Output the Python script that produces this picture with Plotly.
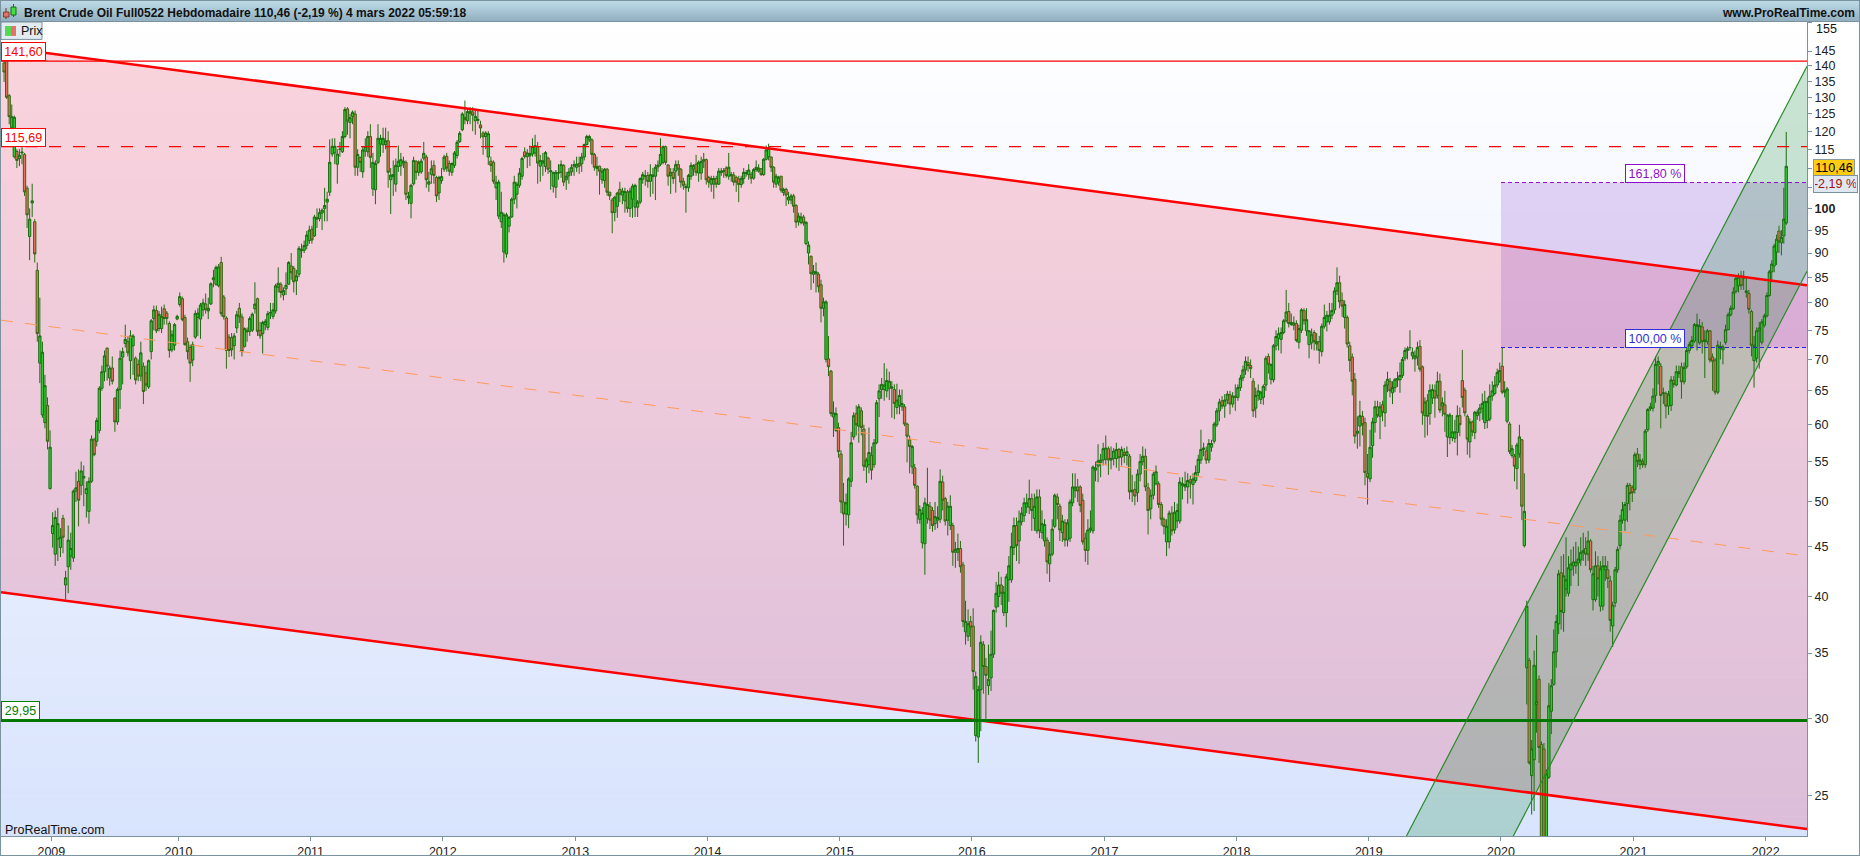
import math
import pandas as pd
import plotly.graph_objects as go

# ---------- weekly candles, one group per calendar span ----------
open_2008 = [141,142,130.5,121,113,114.4,112.5,114,113.6,104.9,93.6,101.3,96.9,86.4,69.4,61.4,60.3,62.8,51.6]
high_2008 = [146,143,131,127.8,124.5,115,115,116,114,105.5,100,106,97.5,88,81,73,67.5,64,59.2]
low_2008 = [134.8,129.5,122,120.5,112.5,110,110.5,111,103,95.5,88.5,98,88,73,66.2,61,59.5,56.6,51.5]
close_2008 = [138,130,124.2,124.2,124,112,113.4,114.2,104,98.5,97.5,101.8,89.8,74.4,74,71.2,65.8,57.7,56.9]

open_2009 = [46.4,44.2,45.8,44.9,48.1,41.1,42.9,44,43.8,51.3,52.5,52,52.9,51,48.9,52.5,57.9,57.7,59.2,65.4,68,71.9,67,68.6,63.9,60.4,65.2,70.4,72.7,73,69.8,72.3,70.2,69.2,67.3,68.9,67.8,65.6,71.3,77.1,78.6,75.3,75.3,78.9,78.1,76.2,71.6,72.4,77]
high_2009 = [48.8,49,49.3,47,48.5,42.5,47.3,46.5,51.5,53.7,54,55,54.5,52.5,53,58.5,58.2,61,65.7,69,71.5,72,69,70.5,64,65.5,71.5,72,76,74,75,74.3,70.5,70,73,69.5,69,70,77,79.5,79.5,78.5,79.3,79.7,78.5,76.6,75,76.3,77.8]
low_2009 = [44.9,43,43.5,43.9,44.3,39.7,40.3,42.6,43.4,50,47.2,50.8,49.5,48.2,47.5,52.3,55.7,57,58.8,65,66.5,66.6,65.8,66,59,60,62.3,66,72,70.5,66.8,67.5,66,66.5,66.5,63,65,65.3,70,75,74.5,74.8,74.5,76,76,70.3,71.2,71.5,76.8]
close_2009 = [47.3,48.2,47.5,46,46,41.8,45.7,44.8,51.3,51.7,50.2,53.8,53.1,51.6,52.5,58,55.9,60.6,65.4,68,70.6,68.9,68.6,66.5,60.4,65.2,70.2,71.3,73.4,71.1,74,74,66.7,67.3,71.1,64.9,65.9,69.8,76.7,78.7,74.9,77.9,77.5,77.1,77.1,71.5,74.2,76,77.5]

open_2010 = [79.7,80.8,77.3,73,72,69.9,73.8,77.3,77,78.7,79.8,78.5,79.8,84.5,83.6,83.3,88,81.1,77.2,73.8,73.7,72.3,75.4,79,77.4,72.2,75,74.8,75,78.9,80.8,75,74.4,76,75.5,78.1,77.5,78.5,83,83.6,81.5,82.7,83.6,87.3,86.8,84.3,85.6,90.5,90.6,91.6,92.7]
high_2010 = [82,81.2,77.8,73.7,72.5,73,78.6,79,80,80.8,81.8,81,84,86.5,87.4,87.7,89.2,81.5,77.5,74.3,74.5,74.5,78.5,80,78,75.5,75.5,77.5,78.2,84,81,76.5,76.7,77,78.5,80,80,83.7,87,84,83,86,88.3,90,87.3,86.5,91.5,92,92.7,94.8,96]
low_2010 = [79.3,76.6,72.3,70,66.4,68.9,73.5,74,73.5,77.5,78,77,79.6,83,83.3,83,77.5,76.9,68.5,70.4,70.5,70,74.5,76.3,70.5,72,73,74,74.7,78,74,73.5,71,75,75,77,77,78,82,81,80.5,81.5,83.5,84.5,82,81.5,85,89,90,90.8,92]
close_2010 = [81.2,76.9,72.5,71.3,69.4,72.5,78,78.1,79.6,80,78.7,79,83.7,84.9,87,87.1,78,77.4,71.5,71.5,71.6,74,77.8,77.4,71.3,75.3,74.7,77.1,77.9,79.8,74.8,74,76.4,76.6,78,78.2,78.7,83.3,83.8,82,82.4,83.4,88,85.9,84.1,85.3,91,90.7,91.6,93.9,95]

open_2011 = [95.2,93.7,97.5,97.6,98.9,100,101.5,103.9,113.7,114,111,115,114.3,118.5,126.5,122.5,124.2,125,110.2,112.8,109,114.5,114.3,118.5,104.7,104.5,111.5,116.4,116.2,116.3,117.3,107,107.8,105.9,110.4,110.6,111.3,111.5,102.5,101.2,106,111.8,108.9,109,112.6,112.9,105.9,108.4,110.7,107.6,103.7,106.8]
high_2011 = [96,98.5,100,100,100,105,104,117.7,118,118,115,117,120,127,127,125,126,126,115,113,115.6,118,120,122,114,112,122,119,121,121,120,110,112,112.5,116,114,113,112,104,106,113,112,112,112.5,117,113.5,109,112,112,108,108,110]
low_2011 = [92,93.5,95.5,97,95,97,97,103,113,111,106,113,114,118,119,118,122,108,108,109,107.5,113,113,110,103,101,111,113,114,115,105,98.7,103,104,109,108,110,102,101,97.7,105.6,107,108,108.5,112,105,104,106,106,101.5,102,106]
close_2011 = [92.8,98,97.8,99,99.6,100.7,102.2,111.5,115.8,115.8,113.7,115,118.5,126.3,122.9,123.9,125.5,110.2,113.6,111.5,114.8,115.7,118.5,112.8,111.5,111.2,118,118,118,117.3,108.9,108.2,108.3,110.7,111.8,112.2,111.8,103.4,103,105.6,112,108.9,111.5,111.8,113.9,107,106.5,109.8,108.1,103,107.6,107.8]

open_2012 = [109.7,113.1,111.2,108.9,110.7,113.3,117.1,120.4,124,123,125.2,125.6,123,123.1,121.8,119.5,118.5,112.9,111.8,111.5,105,98.2,96.9,90.2,89.8,95.9,98,102.2,103.4,105.6,107.9,114.3,113,113.2,113.7,114,115.7,110.5,111.3,110.4,112.6,109,105.4,105.1,108.7,108.9,110.7,107,108,109,110.5]
high_2012 = [113.5,114,112,111.5,114.5,117.5,120,125.5,129,126.5,127,127,126,126,123,120,120,120,113,112,108,107,104,99,99,98.2,102.6,108,106.5,110,113,115.5,115,116,118,119,117,113.5,114,114.5,113,112,109,109.5,111,112,111,109,110,111,112]
low_2012 = [109,109,108,108,110,112.5,116.7,120,122,122,122,120,119,122,118,113.5,115,110.8,109,106,102,97.5,95.5,88,89,94.5,97.8,101,100,105,107,112.5,110,110.5,113,113,106,106.5,108,109,108.5,104.5,103.8,102.5,107,107.5,105.4,104.5,106,108,108]
close_2012 = [112.9,110,109.2,111.2,114,116.9,119.4,125,123.3,125.7,125.8,124.6,124.3,123.4,120.9,118.4,119.5,119.3,110.7,106.6,106.4,106.4,99.1,98.5,98.5,97.9,102.2,106.4,105.9,108.7,112.5,113,114,113.8,115.7,116,111.3,112,111.9,114.1,109.7,109.3,108.9,108.9,108.8,110.9,106.4,107.9,109,110.2,110.9]

open_2013 = [110.2,111.2,111.1,112.9,116.3,117.6,117.6,113.6,109.9,110.5,107,106.8,109.7,103.9,102,99.1,100.5,104.6,103.2,101.8,103.9,100,102.2,100.3,100.3,101.5,107.1,107.9,108.1,106.6,107.8,107.9,110.3,111,111.5,115.7,110.8,108.1,108.9,109.2,110.9,109.7,106.6,105,105,107.9,109.7,111,108.7,108.7,111.8,112.2]
high_2013 = [113,113,114,116.5,119,119,118,114,113,110.6,110,110,110,104,102.5,103,104,106.5,105,105,104.5,105,106,106,102,107.6,109,109.5,109,111,110,111,112,118,116,116,111,110,110,112,112,110,107.5,106,108.5,111.5,111,113.5,112,113,114,112.5]
low_2013 = [109,108.5,109,112,116,117,111,109.3,108,103.3,106,105,103,102,94.3,97,97.8,101.5,101,99,99,98,97.8,98,98,101,106,105.5,105,102.8,103.5,102,109,110.5,111,110.8,105.5,103.5,106,103.8,108,105,104.5,99,104,107,108,108,106.5,107,110,105.8]
close_2013 = [111,110.5,112.9,116.3,118.5,118.5,113.6,110.2,110.4,109.2,109.2,109.7,103.9,103,99,102.7,103.7,103.4,104.2,104.1,100,104.2,105.4,105.6,101.5,107.3,108.3,108,106.6,108.3,108.2,110.2,110.8,113.6,115.7,111.5,107.9,108.9,107.3,110.9,109.7,106.4,105.6,105.3,108.1,110.7,110.7,108.9,111.5,111.7,112.2,107]

open_2014 = [107.6,105.9,105.9,107.3,105.9,108.8,109.1,110,107.9,108,108.2,107.6,107.2,105.8,107.3,108.6,108.3,108.3,107.4,109.6,109.2,109.8,108.3,112.3,113,112.9,110.2,105.9,106.4,107.9,103.8,104.6,102,102,103,100.7,97,96.7,98,92,90,89.3,85.6,85.7,85.6,83.5,79,70,70.1,68.1,61.1,59.2,59.6]
high_2014 = [108,108,108,108,110,110,110,110.5,114,109,109,108,108,108,110,109.5,111,109,110,112,111,110,112.6,116,116.5,113,110.5,108.5,108,108,105,105,104,103.5,103.5,101,99,99,98.5,97,92.5,89.5,87.5,88,86,84.5,81,80.5,74,68.3,63.4,62.5,60.3]
low_2014 = [105,104,102.3,105,105.7,108,107.5,107.5,107,106.5,105.5,104,101.5,105,106,107.8,107,106,107,109,108.8,108,108,112,112,109,105,105,105.5,103.8,103,100.6,101,101,99,95.5,96,96.3,96,91.7,87.6,82.5,83.8,82,82,76.4,77.5,69.5,67.3,61.2,58.3,59,55.5]
close_2014 = [106.4,107.3,107.3,105.9,109.2,109.2,109.3,108.1,110.2,108.3,106.4,106.4,105.8,107.3,108.9,108.8,109.5,107.4,109.6,110.2,110,108.3,112.3,114.8,115.3,110.2,106.4,107.9,107.6,104.4,104.6,103.2,102.7,103,100.5,96.8,98.2,98,96.6,96.8,91.7,85.7,86.2,86.1,83.1,79,80.2,80.2,68.8,61.6,61.7,61.6,56.3]

open_2015 = [56,50,48.6,48.5,52.5,58.3,61.6,59.8,62,59.4,54.3,54.6,55.8,54.6,57.5,63.8,65.2,65.2,65,65.4,65.4,65.2,62.5,62.8,62.6,62.6,60.1,57.9,54.3,54.2,51.9,48,45.4,45.3,48.1,49.5,49,47.5,47.9,48,52.4,50.4,47.9,47.3,47.3,44.4,44.4,44.8,43.1,36.8,36.4,37.7]
high_2015 = [56.5,52.3,51,53,59,61.8,62.8,63,62.5,60,55.5,59.6,57,58,63.6,66,67,69.4,68.5,68,66.5,66,66.1,65.2,65.2,63,60.3,58.5,57.2,54.7,52,49.6,49.4,50.5,54.2,50,49.4,50,49.5,54,53.2,50.6,50,50.8,47.6,45.5,46.4,45.6,43.4,39.6,38.8,38.2]
low_2015 = [48.7,45.1,47.3,47,51.8,57.9,58.5,57.5,58.5,53.8,52.3,53.5,52.7,54.2,57.3,61.1,63.8,63.5,64,63.6,61,60.8,61.5,61.5,62,59.8,54.9,53.5,53.4,51.6,47.5,47.5,44.8,42.1,47.5,46.9,46.6,46.8,47,47.6,49,47.3,46.2,46.8,43,42.8,43.5,42.3,37.2,35.7,36,35.5]
close_2015 = [50,48.6,49.9,52.8,57.5,61.3,60,62.6,59.6,54.4,55.2,56.2,53.9,57.5,63.2,65,66,65.9,66.6,66.5,65.6,63.1,63.6,64.3,63.1,60.1,58.4,57,57,52,48.5,49.1,48.7,49.9,49.7,47.9,47.3,48.3,48.2,52.5,50.2,47.8,49.5,49.5,44.4,44.7,44.8,42.9,37.7,37.7,37.5,37.2]

open_2016 = [37.3,28.8,28.7,32.1,35.7,33.9,32.4,33,34.9,39,40,41.1,38.5,38.5,41.6,41.6,44.9,47.3,45.6,47.7,48.4,49.4,49.4,50.4,48.1,46.7,50.6,46.5,45.6,45.7,43.2,44.2,47.2,50.6,49.5,46.5,47.6,45.7,45.9,49.9,51.4,51.8,51.8,50.2,45.9,44.6,46.8,46.7,53.9,54.4,54.9,55.2]
high_2016 = [38.9,33.5,32.4,36.5,36,34.6,35.7,36.9,38.8,41.4,42.4,41.9,41,42.2,44,46.5,48.2,48.2,49,49.4,50.5,51,52.7,51,51,51.5,51.5,49,48,46,45.5,48,51,51,49.8,48.5,48,48,50.3,53.5,53.5,52.8,52,51,46.5,48,49,54.5,55,57.3,56,57.5]
low_2016 = [32.1,28.4,27,29.1,31.8,29.9,31.7,32,34.6,38.5,39,39.2,38.2,37.2,39.5,41.3,44.1,43.5,43.2,47.3,47.7,48.7,48.6,46.7,46.7,46.4,45.9,45.8,45,42.2,41.4,44,47,48,45.6,45.5,45,45,45.5,49.5,50.5,50,48.8,45.2,43.4,43.1,46.5,46.4,52.5,52.4,53,54.5]
close_2016 = [33.5,33.1,32.1,35.9,33.9,33.2,32.9,34.9,38.7,40.3,41.1,40.3,40.4,41.9,43,45,47.3,45.1,47.8,48.7,49.9,49.9,50.4,49,49.5,50.6,46.7,47.5,47.4,43.4,44.2,46.9,50.8,49.7,46.8,47.8,45.7,47.6,50,51.8,51.8,51.3,49.6,45.5,44.6,46.8,47,54.3,54.2,55.1,55.2,56.7]

open_2017 = [55.3,56.7,55.2,55.4,55.4,56.6,55.6,56.2,55.8,55.7,51.2,51.5,51.1,53.4,55,55.7,51.7,49.2,50.8,52.2,52.2,49.7,48,45.5,45.5,48.7,46.8,47.8,47.8,52,51.8,51.8,52.7,52.1,52.6,53.6,55.2,56.6,56.4,55.2,56.9,57.7,60,62,63.5,62.7,63.6,64.4,63,64.2]
high_2017 = [58.5,57,57,56.8,57.5,56.8,57,56.8,57,56,53.3,52.5,54,56,57,56.7,52.3,51.5,53.7,54.5,52.5,50,48.2,48,49,49.5,50,49.8,53,53,53.7,53.5,53.2,53.5,54.5,55.9,59.3,57.5,57,58,57.9,60.4,62.4,63.8,64.2,64.5,65,65,64.8,66]
low_2017 = [54.5,53.3,54,54.5,54.2,53.8,54.5,54.8,54.5,50.3,50,49.6,50,52.5,54.5,51.3,46.3,48,50.3,52,49.3,47.3,46.3,44,44.8,46.2,46.4,47,47.5,50.3,51.3,49.8,50.4,49.7,52.3,53.2,54.7,55.7,54.7,54.8,56.3,57.4,59.7,60.5,62.3,61,63,61.5,62.5,62]
close_2017 = [56.8,55.2,55.4,56.4,56.6,55.5,56.6,55.8,56.3,51.2,51.4,50.7,53.4,55,55.7,51.8,49,50.8,53.4,53.7,49.7,48,47.2,47.2,48.7,46.7,48.8,49,52.4,52.2,52.1,52.6,52.3,52.8,53.6,55.3,56.6,56.8,55.2,57.4,57.4,60.1,62,63.3,62.7,63.6,64.5,63,64.2,64]

open_2018 = [64,65.5,67,68.3,69.5,69,66.5,62.4,64.3,63.7,64,65.9,70.5,66.8,66.7,72.3,73.6,73.4,74.6,76.7,78.4,76,75.9,76.2,72.9,75,78.6,74.9,72.5,72.8,74.6,72.6,73,71.3,75.7,76.5,76.5,77.7,78.7,82.3,83.9,80.5,77.3,77.3,72.3,70.4,66.8,58.8,59.8,61.2,60.3,53.5]
high_2018 = [66,67.5,69,70.5,70.5,70,67,65.5,66,65,66,70.6,71,69.3,72.6,75,75.5,75.5,77,82.5,80,78,77.5,76.8,76,79,79,79,75,75.3,75,74.5,74,76.2,79.7,78.5,80,80,83,87,85.3,82,80.5,77.7,73,71,67.8,61.2,63.5,62,61,56]
low_2018 = [63.5,65,66.5,67.5,68,67,61.1,61,63.5,63,62.9,65,67.7,66,66.3,71.5,71.5,71,74.3,76.4,75.5,75.8,75,72.9,71.8,74.5,76,74,70.2,71.7,71.5,71.5,69.3,70.5,75.3,74.8,76,77,78,81.5,79,77.4,75.3,72,68,64.3,57.4,56.7,57,58.5,52,49.7]
close_2018 = [65.5,67,68.3,69.7,69,68.5,62,64.3,65,64.8,65.7,70.2,69.2,69.2,72.3,73.9,74.4,74.6,76.7,78.3,76.2,76.4,76.3,73.2,75.3,78.7,76.7,76.9,74.9,74.2,73,73,71.5,75.7,77.3,77.7,77.7,78.6,82.3,83.9,80.2,79.4,79.7,72.6,69.8,66.5,58.4,59.1,61.3,60,53.6,53]

open_2019 = [52.8,57.1,60.3,62.6,61.2,62.9,61.7,65.9,66.5,64.7,65.5,66.7,66.7,67.4,70.2,71.5,72,70.6,70.1,70.4,72.2,68.8,61.3,63.5,61.6,63.9,65,64.3,66.5,62.7,62.9,58.3,58.2,58.2,58.1,58.9,61.3,66.6,65.1,61.2,57.6,60.4,58.9,61.3,61.7,62.4,60.3,60.6,60.8,64.2,64.6,65.9,66.5]
high_2019 = [59.3,61,63.5,63.5,63.3,63.5,66.5,68,67,66.5,67,68,69.5,70.4,72,72.2,75,72,71.5,73,73.3,69,64,64.5,66,66,66,68,67.7,64,65,61.5,61.7,61.4,60.7,62.8,62.5,71.6,65.5,61.5,60.9,60.6,62,62.2,63,64.6,65,64,66,66.5,67.3,68.5,69.5]
low_2019 = [52.4,55.5,58.9,61,58,60.5,59.7,64.8,64,63,64.8,65.6,64.7,67,69.8,70,71.5,70,68,69,68,60,58.2,58.5,60,63,61,63.8,61.7,61.2,59,55.6,57.3,57.7,57.5,55.8,58.4,62.5,61.2,55.9,55.5,58.4,58,60.7,60.5,60.7,59.4,59.5,60.5,63.5,64.3,65.5,66.2]
close_2019 = [56.9,60.4,62.6,61.3,62.6,61.8,65.9,66.8,65,65.5,66.8,66.9,67.4,70,71.5,71.8,72,71.2,70.6,72,68.4,61.7,63.3,61.2,65.1,65.2,63.9,66.5,62.1,63.2,61.5,61.4,61.4,59,59,61.3,60,64,61.7,58,60.4,59,61.8,61.8,62.4,63.1,63.4,63.4,64.2,65,65.9,67.9,68.2]

open_2020 = [68.9,64.8,60.5,60.1,55.8,55.7,54.1,56,57.9,45.1,33.8,34.4,26.2,27.2,31,32.9,28.2,27.9,19,26.1,30.5,32.5,35.1,37.5,42.3,38.5,40.7,40.3,42.6,43,43,43.3,43.6,44.4,44.8,44.2,45.6,39.7,39.7,43,39.1,39.1,42.6,42.6,41.5,37.3,39.4,42.6,45.1,47.9,47.9,49.8,52,51.7]
high_2020 = [72,66.5,65.6,60.4,57.2,56,57.5,60,58,53.5,39.6,34.6,28.5,35.2,36.5,33.2,28.4,28.3,26.6,32.6,32.9,37,38.3,42.6,44,44.2,46,44,44.7,45,45.5,45,46,46.5,46,46.7,45.8,43,44.5,44,43.5,44,44,43.5,42,39.5,42.9,45,48.5,50,50,52.3,52.3,52]
low_2020 = [64.5,64,60.2,56,55.5,52.5,51.5,55.5,47.9,44.9,31,26.9,23.9,24.1,29,27,19,19,18.5,26,28.9,32.4,33.8,36.6,37,36.8,40,40,41,42,42.2,41,43,43.5,43,43.5,42.3,38.7,39.5,40,38.6,38.7,41.5,40.8,36.8,35.5,39,42.3,44.7,47.5,46.7,47.7,49,50]
close_2020 = [64.8,65,65.3,56.3,56.7,54.4,57.2,58.3,49.5,48.9,39.1,27,27.9,34,31.2,28,20,20,26.3,30.9,32.4,35.1,37.7,42.2,38.6,42,41.6,42.8,43.2,43.4,43.4,43.7,44.4,44.6,44.2,45.6,42.6,42.2,43,41.7,42.7,43,43,41.7,37.8,39.2,42.6,44.7,47.9,49.1,49.7,52,51,51.1]

open_2021 = [51.5,56,54.6,55,54.6,59.3,62.3,62.4,64.3,69.1,68.9,64.6,64.6,62.7,62.8,66.6,65.9,67.7,68.8,66.4,68.8,71.5,72.3,73.1,75.7,72.8,75.6,73,73,74.9,70.4,69.9,64.8,71.9,71.6,72.9,75.1,77.8,78.9,82.2,83.3,85.3,84.8,82,81.8,78.4,69.8,70.2,74.9,72.9,75.9]
high_2021 = [56.2,56.8,56,55.4,59.4,62.4,63.2,65.4,70.5,70.5,69.4,65.5,64.9,65,67.3,67.3,69,69,69.5,69.5,72,73,74,76.3,78,77,76.5,75,75.2,75,71,70.2,73.2,73,72.5,76,78.2,79.5,83,85.2,85.8,86.3,86.3,85.2,82.5,78.7,74,75.5,76.5,77,78]
low_2021 = [51,54.3,54,54.2,54.2,59,62,61.9,63.2,66,59.5,63,60.9,61.4,62,65.5,65.7,67,63.8,66,68.5,71,71.8,72.8,71.5,72.5,71,67,72.5,69.5,65,64.4,64.5,70,69.2,72.5,75,77.5,78.7,81.8,82,82.5,82.5,81,78,70.5,65.5,69.5,68.5,72.5,75.5]
close_2021 = [55.9,55,55.2,54.6,59.1,62.2,62.6,64.2,69.2,69.7,64.3,64.7,62.7,64.5,66.7,66,68,68,66.4,68.7,71.5,72.5,73.2,76,76,75.8,73,73.3,74.9,69.9,69.7,64.8,72.4,72.2,72.1,75.1,77.8,79,82.1,84.8,85,83.3,85,82.3,78.8,72.4,72.4,74.9,75.4,76.5,77.6]

open_2022 = [77.6,81.4,86.1,87.3,90.2,94.8,92.2,93.7,96.6]
high_2022 = [82,86.5,88.5,92,94,96,95,105,119.8]
low_2022 = [77.3,81.2,84,86,87.5,90,89.5,92,96.2]
close_2022 = [81.4,86.1,87.7,91.5,93,92.4,93.4,97.5,110.46]

# Calendar span of each group (the platform's x axis is per-bar, so the 2009 tick sits a bit late)
year_edges = ["2008-09-03", "2009-01-15", "2010-01-01", "2011-01-01", "2012-01-01", "2013-01-01", "2014-01-01",
              "2015-01-01", "2016-01-01", "2017-01-01", "2018-01-01", "2019-01-01", "2020-01-01", "2021-01-01",
              "2022-01-01", "2022-03-02"]
group_opens = [open_2008, open_2009, open_2010, open_2011, open_2012, open_2013, open_2014, open_2015, open_2016, open_2017, open_2018, open_2019, open_2020, open_2021, open_2022]
group_highs = [high_2008, high_2009, high_2010, high_2011, high_2012, high_2013, high_2014, high_2015, high_2016, high_2017, high_2018, high_2019, high_2020, high_2021, high_2022]
group_lows = [low_2008, low_2009, low_2010, low_2011, low_2012, low_2013, low_2014, low_2015, low_2016, low_2017, low_2018, low_2019, low_2020, low_2021, low_2022]
group_closes = [close_2008, close_2009, close_2010, close_2011, close_2012, close_2013, close_2014, close_2015, close_2016, close_2017, close_2018, close_2019, close_2020, close_2021, close_2022]

# ---------- levels and drawn lines ----------
window_dates = ["2008-08-29", "2022-04-25"]
upper_trend_values = [146.4, 83.4]
lower_trend_values = [40.4, 23.1]
middle_trend_values = [76.8, 44.0]
resistance_top = 141.6
resistance_mid = 115.69
support_level = 29.85
fib_start_date = "2020-01-01"
fib_100 = 72.0
fib_1618 = 106.3
channel_top_dates = ["2019-04-15", "2022-04-25"]
channel_top_values = [22.72, 139.9]
channel_bottom_dates = ["2020-02-04", "2022-04-25"]
channel_bottom_values = [22.72, 86.2]

year_labels = ["2009", "2010", "2011", "2012", "2013", "2014", "2015", "2016", "2017", "2018", "2019", "2020", "2021", "2022"]
price_ticks = [155, 145, 140, 135, 130, 125, 120, 115, 110, 105, 100, 95, 90, 85, 80, 75, 70, 65, 60, 55, 50, 45, 40, 35, 30, 25]

# ---------- assemble candles ----------
xs, o, h, l, c = [], [], [], [], []
for i in range(len(group_opens)):
    n = min(len(group_opens[i]), len(group_highs[i]), len(group_lows[i]), len(group_closes[i]))
    start, end = pd.Timestamp(year_edges[i]), pd.Timestamp(year_edges[i + 1])
    step = (end - start) / n
    for j in range(n):
        xs.append(start + step * (j + 0.5))
        op, cl = group_opens[i][j], group_closes[i][j]
        o.append(op)
        c.append(cl)
        h.append(max(group_highs[i][j], op, cl))
        l.append(min(group_lows[i][j], op, cl))

FONT = "Liberation Sans"
W, H = 1860, 860
L, R, T, B = 1, 1807, 22, 840
PW, PH = R - L, B - T
AXIS = "#7b929f"


def fx(px):
    return (px - L) / PW


def fy(py):
    return (B - py) / PH


def rect(x0, y0, x1, y1, fill, line=None, width=1, layer="above"):
    return dict(type="rect", xref="paper", yref="paper", x0=fx(x0), x1=fx(x1), y0=fy(y0), y1=fy(y1),
                fillcolor=fill, layer=layer, line=dict(color=line or fill, width=width if line else 0))


def poly(xv, yv, fill):
    pts = " L ".join(f"{a},{b}" for a, b in zip(xv, yv))
    return dict(type="path", xref="x", yref="y", path=f"M {pts} Z", fillcolor=fill, layer="below", line=dict(width=0))


shapes = []
# plot background gradient
strips = 82
for s in range(strips):
    t = (s + 0.5) / strips
    col = f"rgb({round(255 - 39 * t)},{round(255 - 28 * t)},{round(255 - 2 * t)})"
    y0 = T + PH * s / strips
    y1 = T + PH * (s + 1) / strips
    shapes.append(rect(L, y0, R, y1 + 0.5, col, layer="below"))

# filled zones
shapes.append(poly([window_dates[0], window_dates[1], window_dates[1], window_dates[0]],
                   [upper_trend_values[0], upper_trend_values[1], lower_trend_values[1], lower_trend_values[0]],
                   "rgba(235,0,40,0.165)"))
shapes.append(poly([fib_start_date, window_dates[1], window_dates[1], fib_start_date],
                   [fib_1618, fib_1618, fib_100, fib_100], "rgba(128,50,195,0.20)"))
shapes.append(poly([channel_top_dates[0], channel_top_dates[1], channel_bottom_dates[1], channel_bottom_dates[0]],
                   [channel_top_values[0], channel_top_values[1], channel_bottom_values[1], channel_bottom_values[0]],
                   "rgba(0,128,30,0.20)"))

# window chrome
for s in range(22):
    t = s / 21
    col = f"rgb({round(190 - 46 * t)},{round(220 - 46 * t)},{round(232 - 42 * t)})"
    shapes.append(rect(0, s, W, s + 1, col))
shapes.append(rect(0, 21, W, 22, AXIS))
shapes.append(rect(0, 0, 1, H, AXIS))
shapes.append(rect(W - 1, 0, W, H, AXIS))
shapes.append(rect(0, 0, W, 1, AXIS))
shapes.append(rect(0, H - 1, W, H, AXIS))
# title icon
shapes.append(rect(5.5, 8, 6.5, 19, "#7a3020"))
shapes.append(rect(3.5, 12, 9, 17, "#e8706a", "#7a4030"))
shapes.append(rect(13, 4, 14, 17, "#1c6b10"))
shapes.append(rect(11, 7, 16, 15, "#44dd44", "#1c6b10"))
# "Prix" tab
shapes.append(rect(1, 22, 42, 39.5, "#e2ebf0", AXIS))
shapes.append(rect(5, 26, 11, 36, "#55d955"))
shapes.append(rect(11, 26, 16, 36, "#e8706a"))

annotations = []


def note(text, x, y, xanchor="left", yanchor="middle", color="#111111", size=12.5, bold=False, **kw):
    annotations.append(dict(text=f"<b>{text}</b>" if bold else text, x=x, y=y, xref="paper", yref="paper",
                            xanchor=xanchor, yanchor=yanchor, showarrow=False,
                            font=dict(family=FONT, size=size, color=color), **kw))


def level_box(text, x_px, w_px, value, color):
    annotations.append(dict(text=text, x=fx(x_px), y=math.log10(value), xref="paper", yref="y",
                            xanchor="left", yanchor="bottom", showarrow=False, width=w_px - 3, height=17, align="center",
                            bgcolor="#ffffff", bordercolor=color, borderwidth=1, borderpad=0,
                            font=dict(family=FONT, size=12.5, color=color)))


note("Brent Crude Oil Full0522 Hebdomadaire 110,46 (-2,19 %) 4 mars 2022 05:59:18", fx(21.5), fy(12.5), bold=True, size=12)
note("www.ProRealTime.com", fx(1857), fy(12.5), xanchor="right", bold=True, size=12)
note("Prix", fx(19), fy(31))
note("ProRealTime.com", fx(2.5), fy(834))
note("155", fx(1814), fy(29.5))
level_box("141,60", 1, 46, resistance_top, "#ff0000")
level_box("115,69", 1, 46, resistance_mid, "#ff0000")
level_box("29,95", 1, 40, support_level, "#008000")
level_box("161,80 %", 1625, 61, fib_1618, "#8a10c8")
level_box("100,00 %", 1625, 61, fib_100, "#3030d8")
note("110,46", fx(1813), fy(168.5), color="#000000", bgcolor="#ffcc11", bordercolor="#8a9aa5", borderwidth=1, borderpad=1,
     width=38, height=14)
note("-2,19 %", fx(1813), fy(185), color="#a01010", bgcolor="#dfe7f1", bordercolor="#7b929f", borderwidth=1, borderpad=1,
     width=41, height=14)

fig = go.Figure()
fig.add_trace(go.Candlestick(
    x=xs, open=o, high=h, low=l, close=c, whiskerwidth=0,
    increasing=dict(fillcolor="#33cc33", line=dict(color="#1c6b10", width=1)),
    decreasing=dict(fillcolor="#e8705f", line=dict(color="#2f6b10", width=1)),
    hoverinfo="skip", showlegend=False))


def line(xv, yv, color, width, dash="solid"):
    fig.add_trace(go.Scatter(x=xv, y=yv, mode="lines", hoverinfo="skip", showlegend=False,
                             line=dict(color=color, width=width, dash=dash)))


line(window_dates, upper_trend_values, "#ff0000", 2.5)
line(window_dates, lower_trend_values, "#ff0000", 2.5)
line(window_dates, middle_trend_values, "#ff9a5c", 1, "12px,12px")
line(window_dates, [resistance_top] * 2, "#ff0000", 1.3)
line(window_dates, [resistance_mid] * 2, "#ff0000", 1.3, "12px,12px")
line(window_dates, [support_level] * 2, "#007700", 3)
line([fib_start_date, window_dates[1]], [fib_1618] * 2, "#8a10c8", 1, "4px,3px")
line([fib_start_date, window_dates[1]], [fib_100] * 2, "#2020e8", 1, "4px,3px")
line(channel_top_dates, channel_top_values, "#2a8a2a", 1.2)
line(channel_bottom_dates, channel_bottom_values, "#2a8a2a", 1.2)

fig.update_layout(
    width=W, height=H, autosize=False, showlegend=False,
    margin=dict(l=L, r=W - R, t=T, b=H - B, pad=0),
    paper_bgcolor="#ffffff", plot_bgcolor="#ffffff",
    shapes=shapes, annotations=annotations,
    hovermode=False, dragmode=False, boxgap=0, boxgroupgap=0.05,
    xaxis=dict(type="date", range=window_dates, rangeslider=dict(visible=False), showgrid=False, zeroline=False,
               tickmode="array", tickvals=[year_edges[1]] + [f"{y}-01-01" for y in year_labels[1:]], ticktext=year_labels,
               ticks="outside", ticklen=4, tickcolor=AXIS, tickwidth=1, showline=True, linecolor=AXIS, linewidth=1,
               tickfont=dict(family=FONT, size=12.5, color="#222222")),
    yaxis=dict(type="log", side="right", range=[math.log10(22.72), math.log10(155.3)], showgrid=False, zeroline=False,
               tickmode="array", tickvals=price_ticks,
               ticktext=["" if v in (155, 110, 105) else ("<b>100</b>" if v == 100 else str(v)) for v in price_ticks],
               ticks="outside", ticklen=4, tickcolor=AXIS, tickwidth=1, showline=True, linecolor=AXIS, linewidth=1,
               tickfont=dict(family=FONT, size=12.5, color="#222222")),
)

fig.write_html("out.html", config=dict(displayModeBar=False, responsive=False),
               post_script="document.body.style.margin='0';document.body.style.overflow='hidden';")
